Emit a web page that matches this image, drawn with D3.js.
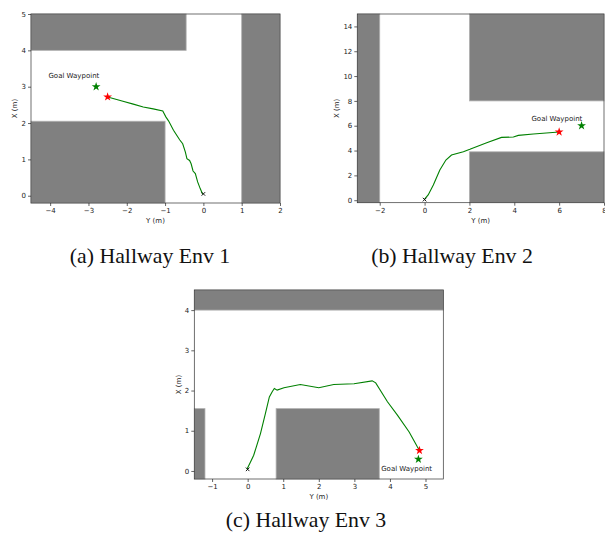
<!doctype html>
<html>
<head>
<meta charset="utf-8">
<title>Hallway Envs</title>
<script src="https://d3js.org/d3.v7.min.js"></script>
<style>
  body { margin: 0; background: #fff; }
  svg { display: block; }
  .tick text { font-family: "DejaVu Sans", sans-serif; font-size: 7px; fill: #222; }
  .tick line { stroke: #222; stroke-width: 0.7; }
  .lbl { font-family: "DejaVu Sans", sans-serif; font-size: 7px; fill: #222; }
  .cap { font-family: "Liberation Serif", "Times New Roman", serif; font-size: 21.8px; fill: #111; }
</style>
</head>
<body>
<svg width="605" height="533"></svg>
<script>
// ---- Env 1 ----
var env1XDomain = [-4.5, 2], env1YDomain = [-0.2, 5];
var env1XTicks = [-4, -3, -2, -1, 0, 1, 2];
var env1YTicks = [0, 1, 2, 3, 4, 5];
// obstacles as [y0, y1, x0, x1] in metres (y horizontal, x vertical)
var env1Obstacles = [[-4.5, -0.45, 4, 5], [-4.5, -1, -0.2, 2.05], [1, 2, -0.2, 5]];
var env1Path = [[-0.02, 0.04], [-0.08, 0.19], [-0.15, 0.38], [-0.21, 0.61], [-0.27, 0.68], [-0.32, 0.88],
    [-0.36, 0.97], [-0.43, 1.02], [-0.47, 1.20], [-0.54, 1.43], [-0.62, 1.54], [-0.78, 1.80], [-0.91, 2.06],
    [-0.98, 2.17], [-1.06, 2.33], [-1.31, 2.39], [-1.57, 2.44], [-1.83, 2.52], [-2.10, 2.60], [-2.45, 2.70], [-2.5, 2.72]];
var env1Start = [0, 0.05], env1End = [-2.5, 2.72], env1Goal = [-2.8, 3];
var env1GoalText = [-3.38, 3.3];

// ---- Env 2 ----
var env2XDomain = [-3, 8], env2YDomain = [-0.2, 15];
var env2XTicks = [-2, 0, 2, 4, 6, 8];
var env2YTicks = [0, 2, 4, 6, 8, 10, 12, 14];
var env2Obstacles = [[-3, -2, -0.2, 15], [2, 8, 8, 15], [2, 8, -0.2, 3.9]];
var env2Path = [[0, 0.08], [0.16, 0.43], [0.39, 1.23], [0.68, 2.44], [0.95, 3.24], [1.2, 3.64], [1.73, 3.91],
    [2.02, 4.10], [2.77, 4.63], [3.43, 5.06], [3.96, 5.09], [4.18, 5.22], [4.85, 5.33], [6.0, 5.5]];
var env2Start = [0, 0.05], env2End = [6, 5.5], env2Goal = [7, 6];
var env2GoalText = [5.9, 6.55];

// ---- Env 3 ----
var env3XDomain = [-1.5, 5.5], env3YDomain = [-0.2, 4.5];
var env3XTicks = [-1, 0, 1, 2, 3, 4, 5];
var env3YTicks = [0, 1, 2, 3, 4];
var env3Obstacles = [[-1.5, 5.5, 4, 4.5], [-1.5, -1.2, -0.2, 1.55], [0.8, 3.7, -0.2, 1.55]];
var env3Path = [[-0.02, 0.04], [0.08, 0.22], [0.17, 0.39], [0.36, 0.93], [0.50, 1.43], [0.61, 1.84], [0.69, 1.97],
    [0.75, 2.05], [0.83, 2.01], [1.02, 2.07], [1.48, 2.15], [2.0, 2.07], [2.42, 2.15], [2.99, 2.17], [3.5, 2.24],
    [3.60, 2.19], [3.93, 1.72], [4.21, 1.39], [4.54, 0.97], [4.77, 0.60], [4.83, 0.51]];
var env3Start = [0, 0.04], env3End = [4.83, 0.51], env3Goal = [4.8, 0.29];
var env3GoalText = [4.47, 0.05];

var captions = ["(a) Hallway Env 1", "(b) Hallway Env 2", "(c) Hallway Env 3"];

var svg = d3.select("svg");
var fmt = d3.format("d");

function drawPanel(box, xDom, yDom, xTicks, yTicks, obstacles, path, start, end, goal, goalText) {
    var x = d3.scaleLinear().domain(xDom).range([box.left, box.right]);
    var y = d3.scaleLinear().domain(yDom).range([box.bottom, box.top]);
    var g = svg.append("g");

    g.selectAll(".obs")
        .data(obstacles)
        .enter().append("rect")
        .attr("class", "obs")
        .attr("x", function(d) { return x(d[0]); })
        .attr("width", function(d) { return x(d[1]) - x(d[0]); })
        .attr("y", function(d) { return y(d[3]); })
        .attr("height", function(d) { return y(d[2]) - y(d[3]); })
        .attr("fill", "#808080")
        .attr("stroke", "#b0b0b0")
        .attr("stroke-width", 0.8);

    g.append("path")
        .datum(path)
        .attr("fill", "none")
        .attr("stroke", "#008000")
        .attr("stroke-width", 1.1)
        .attr("d", d3.line().x(function(d) { return x(d[0]); }).y(function(d) { return y(d[1]); }));

    g.append("path")
        .attr("d", d3.symbol().type(d3.symbolX).size(10)())
        .attr("transform", "translate(" + x(start[0]) + "," + y(start[1]) + ")")
        .attr("stroke", "#000").attr("stroke-width", 0.9).attr("fill", "none");

    g.append("path")
        .attr("d", d3.symbol().type(d3.symbolStar).size(24)())
        .attr("transform", "translate(" + x(end[0]) + "," + y(end[1]) + ")")
        .attr("fill", "#ff0000");

    g.append("path")
        .attr("d", d3.symbol().type(d3.symbolStar).size(24)())
        .attr("transform", "translate(" + x(goal[0]) + "," + y(goal[1]) + ")")
        .attr("fill", "#008000");

    g.append("text")
        .attr("class", "lbl")
        .attr("x", x(goalText[0]))
        .attr("y", y(goalText[1]))
        .attr("text-anchor", "middle")
        .attr("dy", "0.35em")
        .text("Goal Waypoint");

    // frame
    g.append("rect")
        .attr("x", box.left).attr("y", box.top)
        .attr("width", box.right - box.left).attr("height", box.bottom - box.top)
        .attr("fill", "none").attr("stroke", "#333").attr("stroke-width", 0.7);

    g.append("g")
        .attr("transform", "translate(0," + box.bottom + ")")
        .call(d3.axisBottom(x).tickValues(xTicks).tickFormat(fmt).tickSize(3).tickSizeOuter(0).tickPadding(2))
        .call(function(a) { a.select(".domain").remove(); });

    g.append("g")
        .attr("transform", "translate(" + box.left + ",0)")
        .call(d3.axisLeft(y).tickValues(yTicks).tickFormat(fmt).tickSize(3).tickSizeOuter(0).tickPadding(2))
        .call(function(a) { a.select(".domain").remove(); });

    g.append("text")
        .attr("class", "lbl")
        .attr("x", (box.left + box.right) / 2)
        .attr("y", box.bottom + 20)
        .attr("text-anchor", "middle")
        .text("Y (m)");

    g.append("text")
        .attr("class", "lbl")
        .attr("transform", "translate(" + box.xLabel + "," + (box.top + box.bottom) / 2 + ") rotate(-90)")
        .attr("text-anchor", "middle")
        .attr("dy", "0.35em")
        .text("X (m)");
}

drawPanel({left: 31, right: 280, top: 14, bottom: 203, xLabel: 15},
    env1XDomain, env1YDomain, env1XTicks, env1YTicks, env1Obstacles, env1Path, env1Start, env1End, env1Goal, env1GoalText);
drawPanel({left: 357.3, right: 604, top: 14, bottom: 202.7, xLabel: 336.5},
    env2XDomain, env2YDomain, env2XTicks, env2YTicks, env2Obstacles, env2Path, env2Start, env2End, env2Goal, env2GoalText);
drawPanel({left: 194.3, right: 443.3, top: 290, bottom: 479, xLabel: 178.3},
    env3XDomain, env3YDomain, env3XTicks, env3YTicks, env3Obstacles, env3Path, env3Start, env3End, env3Goal, env3GoalText);

var capPos = [[150, 263], [452, 263], [306, 527]];
svg.selectAll(".cap")
    .data(captions)
    .enter().append("text")
    .attr("class", "cap")
    .attr("x", function(d, i) { return capPos[i][0]; })
    .attr("y", function(d, i) { return capPos[i][1]; })
    .attr("text-anchor", "middle")
    .text(function(d) { return d; });
</script>
</body>
</html>
